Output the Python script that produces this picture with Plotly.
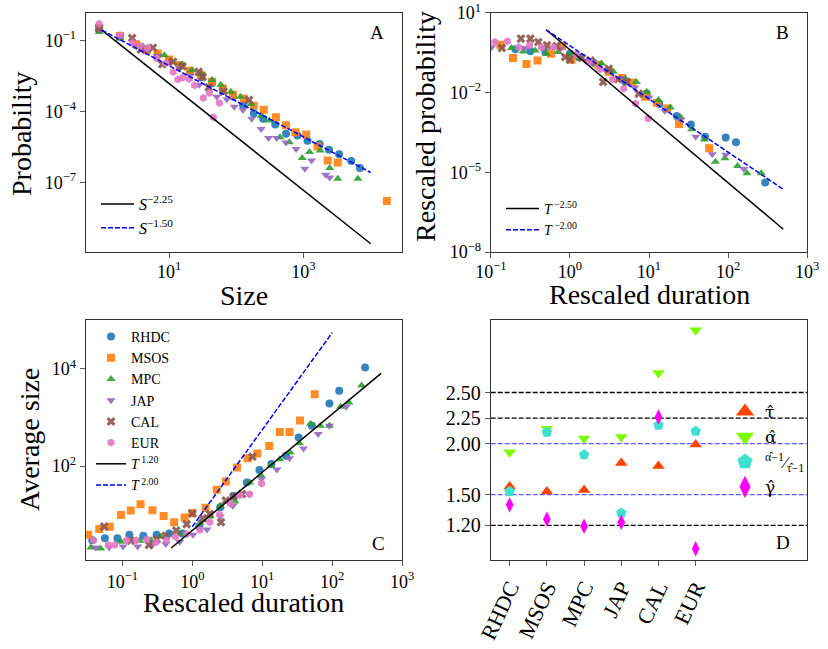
import numpy as np
import plotly.graph_objects as go

FONT = "Liberation Serif"
W, H = 828, 649

DATASETS = ["RHDC", "MSOS", "MPC", "JAP", "CAL", "EUR"]
COLORS = ["#1f77b4", "#ff7f0e", "#2ca02c", "#9467bd", "#8c564b", "#e377c2"]
SYMBOLS = ["circle", "square", "triangle-up", "triangle-down", "x", "hexagon"]

# all scatter values below are log10 values

# panel A: size distribution, log10(size) / log10(probability)
A_RHDC_X = [-0.04, 0.27, 0.51, 0.67, 0.83, 1.0, 1.16, 1.31, 1.48, 1.64, 1.8, 1.95, 2.1, 2.26,
            2.4, 2.58, 2.74, 2.91, 3.06, 3.24, 3.38, 3.53, 3.71, 3.84]
A_RHDC_Y = [-0.54, -0.85, -1.2, -1.41, -1.62, -1.86, -2.08, -2.32, -2.56, -2.81, -3.06, -3.37,
            -3.72, -4.07, -4.3, -4.55, -4.94, -5.01, -5.23, -5.37, -5.61, -5.8, -6.08, -6.38]
A_MSOS_X = [-0.04, 0.27, 0.51, 0.67, 0.83, 1.0, 1.16, 1.31, 1.48, 1.64, 1.8, 1.95, 2.11, 2.26,
            2.41, 2.59, 2.74, 2.88, 3.04, 3.21, 3.36, 3.51, 4.24]
A_MSOS_Y = [-0.48, -0.82, -1.17, -1.41, -1.56, -1.81, -2.05, -2.28, -2.47, -2.75, -3.03, -3.29,
            -3.45, -3.76, -3.93, -4.24, -4.58, -4.87, -4.97, -5.47, -6.06, -6.15, -7.77]
A_MPC_X = [-0.04, 0.27, 0.61, 0.93, 1.19, 1.34, 1.49, 1.64, 1.77, 1.92, 2.06, 2.22, 2.37,
           2.49, 2.65, 2.79, 2.98, 3.09, 3.25, 3.39, 3.51, 3.81]
A_MPC_Y = [-0.65, -0.92, -1.25, -1.63, -2.01, -2.26, -2.42, -2.67, -2.87, -3.17, -3.38, -3.68,
           -4.18, -4.38, -5.08, -5.29, -5.96, -5.71, -5.64, -6.38, -6.83, -6.83]
A_JAP_X = [-0.04, 0.27, 0.51, 0.67, 0.83, 1.0, 1.16, 1.31, 1.45, 1.71, 1.86, 1.97, 2.1, 2.23,
           2.37, 2.48, 2.6, 2.74, 2.89, 3.02, 3.12, 3.33, 3.39]
A_JAP_Y = [-0.54, -0.82, -1.24, -1.45, -1.66, -1.91, -2.18, -2.5, -2.87, -3.38, -3.48, -3.8,
           -3.94, -4.3, -4.74, -5.12, -5.12, -5.3, -5.58, -6.41, -6.06, -6.66, -6.78]
A_CAL_X = [-0.04, 0.45, 0.58, 0.76, 0.9, 1.06, 1.2, 1.44, 1.5, 1.59, 1.81, 2.19]
A_CAL_Y = [-0.48, -0.9, -1.39, -1.31, -2.01, -1.9, -2.09, -2.33, -2.54, -2.98, -3.16, -3.51]
A_EUR_X = [-0.04, 0.27, 0.46, 0.57, 0.68, 0.82, 0.95, 1.06, 1.13, 1.2, 1.3, 1.38, 1.51, 1.6,
           1.66, 1.75]
A_EUR_Y = [-0.3, -0.79, -1.11, -1.24, -1.31, -1.77, -1.97, -2.33, -2.65, -2.58, -2.63, -2.89,
           -3.43, -3.22, -4.24, -3.64]

# panel B: duration distribution, log10(rescaled duration) / log10(rescaled probability)
B_RHDC_X = [-0.69, -0.5, -0.31, 0.0, 0.11, 0.3, 0.5, 0.7, 0.97, 1.13, 1.35, 1.53, 1.71, 1.97,
            2.1, 2.47]
B_RHDC_Y = [-0.37, -0.44, -0.47, -0.54, -0.66, -0.88, -1.2, -1.58, -2.03, -2.43, -2.88, -3.2,
            -3.66, -3.69, -3.87, -5.38]
B_MSOS_X = [-0.88, -0.72, -0.55, -0.41, -0.24, -0.1, 0.02, 0.36, 0.49, 0.66, 0.79, 0.95, 1.1,
            1.23, 1.38, 1.76]
B_MSOS_Y = [-0.2, -0.7, -0.92, -0.79, -0.54, -0.26, -0.76, -0.95, -1.22, -1.45, -1.62, -2.16,
            -2.38, -2.6, -3.18, -4.09]
B_MPC_X = [-0.74, -0.59, -0.44, -0.3, -0.15, 0.0, 0.13, 0.4, 0.55, 0.7, 0.84, 0.97, 1.12,
           1.27, 1.4, 1.54, 1.7, 1.84, 1.96, 2.12, 2.24, 2.42]
B_MPC_Y = [-0.32, -0.45, -0.42, -0.54, -0.47, -0.57, -0.72, -0.91, -1.22, -1.47, -1.6, -1.97,
           -2.28, -2.56, -2.93, -3.38, -3.76, -4.6, -4.47, -4.76, -5.03, -5.03]
B_JAP_X = [-0.99, -0.57, -0.34, -0.12, 0.2, 0.45, 0.65, 0.82, 1.0, 1.2, 1.4, 1.59, 1.8, 1.97,
           2.2]
B_JAP_Y = [-0.29, -0.32, -0.32, -0.35, -0.8, -1.15, -1.45, -1.81, -2.18, -2.68, -3.01, -3.66,
           -4.32, -4.34, -4.87]
B_CAL_X = [-0.86, -0.62, -0.5, -0.4, -0.29, -0.17, -0.06, 0.0, 0.15, 0.26, 0.42, 0.49, 0.61,
           0.72, 0.87]
B_CAL_Y = [-0.32, 0.03, 0.03, -0.1, -0.22, -0.25, -0.66, -0.76, -0.7, -0.79, -1.6, -1.1, -1.5,
           -1.6, -2.04]
B_EUR_X = [-0.95, -0.79, -0.65, -0.51, -0.36, -0.21, 0.08, 0.25, 0.38, 0.54, 0.68, 0.83, 0.99]
B_EUR_Y = [-0.1, -0.07, -0.29, -0.22, -0.3, -0.29, -0.57, -0.85, -1.12, -1.5, -1.85, -2.41,
           -2.97]

# panel C: average size vs duration, log10(rescaled duration) / log10(average size)
C_RHDC_X = [-1.43, -1.25, -1.07, -0.9, -0.7, -0.51, -0.33, -0.14, 0.1, 0.4, 0.59, 0.78, 0.96,
            1.13, 1.34, 1.52, 1.71, 1.96, 2.1, 2.47]
C_RHDC_Y = [0.47, 0.51, 0.51, 0.58, 0.56, 0.58, 0.61, 0.61, 0.75, 1.15, 1.38, 1.66, 1.92, 2.04,
            2.21, 2.59, 2.83, 3.29, 3.55, 4.03]
C_MSOS_X = [-1.49, -1.33, -1.18, -1.02, -0.88, -0.74, -0.57, -0.41, -0.26, -0.11, 0.0, 0.19,
            0.35, 0.48, 0.64, 0.79, 0.93, 1.1, 1.25, 1.39, 1.54, 1.75]
C_MSOS_Y = [0.58, 0.7, 0.75, 0.99, 1.08, 1.21, 1.09, 0.97, 0.84, 0.94, 1.03, 1.14, 1.51, 1.68,
            1.97, 2.16, 2.26, 2.41, 2.7, 2.7, 2.94, 3.48]
C_MPC_X = [-1.45, -1.31, -1.02, -0.75, -0.59, -0.45, -0.18, 0.11, 0.25, 0.4, 0.61, 0.82, 0.98,
           1.12, 1.25, 1.4, 1.53, 1.69, 1.83, 1.96, 2.12, 2.24, 2.42]
C_MPC_Y = [0.32, 0.3, 0.44, 0.46, 0.47, 0.54, 0.6, 0.83, 0.96, 1.18, 1.27, 1.66, 1.81, 2.0,
           2.14, 2.28, 2.47, 2.87, 2.83, 2.83, 3.22, 3.31, 3.66]
C_JAP_X = [-1.38, -1.19, -0.99, -0.78, -0.58, -0.38, -0.18, 0.01, 0.21, 0.4, 0.58, 0.81, 0.99,
           1.21, 1.39, 1.59, 1.8, 1.96, 2.2]
C_JAP_Y = [0.32, 0.32, 0.34, 0.34, 0.36, 0.39, 0.44, 0.58, 0.69, 0.96, 1.18, 1.42, 1.73, 1.93,
           2.16, 2.36, 2.66, 2.83, 3.22]
C_CAL_X = [-1.26, -0.88, -0.62, -0.51, -0.38, -0.23, -0.08, 0.0, 0.15, 0.25, 0.41, 0.48, 0.59,
           0.71, 0.86]
C_CAL_Y = [0.75, 0.46, 0.37, 0.49, 0.56, 0.67, 0.8, 1.02, 0.92, 1.01, 0.84, 1.29, 1.37, 1.42,
           2.19]
C_EUR_X = [-1.41, -1.2, -1.11, -0.94, -0.8, -0.65, -0.52, -0.37, -0.24, -0.08, 0.11, 0.25,
           0.39, 0.55, 0.68, 0.82, 0.99]
C_EUR_Y = [0.47, 0.37, 0.37, 0.47, 0.47, 0.49, 0.43, 0.47, 0.54, 0.6, 0.68, 0.84, 1.0, 1.22,
           1.4, 1.42, 1.64]

# power-law guide lines: (label, x0, y0, exponent, x_end), drawn y = y0 * (x / x0) ** exponent
A_FITS = [("<i>S</i><sup>−2.25</sup>", 1.0, 0.27, -2.25, 1e4),
          ("<i>S</i><sup>−1.50</sup>", 1.0, 0.27, -1.50, 1e4)]
B_FITS = [("<i>T</i><sup> −2.50</sup>", 0.5, 2.31, -2.50, 500.0),
          ("<i>T</i><sup> −2.00</sup>", 0.5, 2.31, -2.00, 500.0)]
C_FITS = [("<i>T</i><sup> 1.20</sup>", 0.5, 2.04, 1.20, 500.0),
          ("<i>T</i><sup> 2.00</sup>", 1.0, 5.6, 2.00, 100.0)]

# panel D: estimated exponents per dataset
D_TAU = [1.58, 1.53, 1.545, 1.81, 1.78, 1.99]
D_ALPHA = [1.915, 2.146, 2.05, 2.065, 2.69, 3.11]
D_RATIO = [1.53, 2.11, 1.89, 1.32, 2.18, 2.12]
D_GAMMA = [1.40, 1.26, 1.19, 1.23, 2.26, 0.97]
D_LEVELS = [2.50, 2.25, 2.00, 1.50, 1.20]
D_LEVEL_COLORS = ["black", "black", "#5a5aff", "#5a5aff", "black"]
D_TICKS = ["1.20", "1.50", "2.00", "2.25", "2.50"]

panel_data = {
    "A": [(A_RHDC_X, A_RHDC_Y), (A_MSOS_X, A_MSOS_Y), (A_MPC_X, A_MPC_Y),
          (A_JAP_X, A_JAP_Y), (A_CAL_X, A_CAL_Y), (A_EUR_X, A_EUR_Y)],
    "B": [(B_RHDC_X, B_RHDC_Y), (B_MSOS_X, B_MSOS_Y), (B_MPC_X, B_MPC_Y),
          (B_JAP_X, B_JAP_Y), (B_CAL_X, B_CAL_Y), (B_EUR_X, B_EUR_Y)],
    "C": [(C_RHDC_X, C_RHDC_Y), (C_MSOS_X, C_MSOS_Y), (C_MPC_X, C_MPC_Y),
          (C_JAP_X, C_JAP_Y), (C_CAL_X, C_CAL_Y), (C_EUR_X, C_EUR_Y)],
}
axes_of = {"A": ("x", "y", "legend"), "B": ("x2", "y2", "legend2"), "C": ("x3", "y3", "legend3")}
fits_of = {"A": A_FITS, "B": B_FITS, "C": C_FITS}


def px(x):
    return x / W


def py(y):
    return 1 - y / H


fig = go.Figure()

for panel in ["A", "B", "C"]:
    xa, ya, lg = axes_of[panel]
    for name, color, sym, (lx, ly) in zip(DATASETS, COLORS, SYMBOLS, panel_data[panel]):
        fig.add_trace(go.Scatter(
            x=np.power(10.0, lx), y=np.power(10.0, ly), mode="markers", name=name,
            xaxis=xa, yaxis=ya, legend=lg, showlegend=(panel == "C"),
            marker=dict(color=color, symbol=sym, size=8, line=dict(width=0), opacity=0.9),
        ))
    for i, (label, x0, y0, ex, x1) in enumerate(fits_of[panel]):
        xs = np.array([x0, x1])
        fig.add_trace(go.Scatter(
            x=xs, y=y0 * (xs / x0) ** ex, mode="lines", name=label,
            xaxis=xa, yaxis=ya, legend=lg,
            line=dict(color="black" if i == 0 else "blue", width=1.5,
                      dash="solid" if i == 0 else "5px,2px"),
        ))

# panel D points
cats = np.arange(len(DATASETS))
HAT = '<span style="font-family:DejaVu Serif">%s</span>'
d_series = [
    (HAT % "τ̂", D_TAU, "triangle-up", "#ff4500"),
    (HAT % "α̂", D_ALPHA, "triangle-down", "#7cfc00"),
    ("<sup>α̂−1</sup>⁄<sub>τ̂−1</sub>", D_RATIO, "pentagon", "#40e0d0"),
    (HAT % "γ̂", D_GAMMA, "diamond-tall", "#ff00ff"),
]
for label, vals, sym, color in d_series:
    fig.add_trace(go.Scatter(
        x=cats, y=vals, mode="markers", xaxis="x4", yaxis="y4", showlegend=False,
        marker=dict(color=color, symbol=sym, size=11, line=dict(width=0)),
    ))
for label, vals, sym, color in d_series:
    fig.add_trace(go.Scatter(
        x=[None], y=[None], mode="markers", name=label, xaxis="x4", yaxis="y4",
        legend="legend4",
        marker=dict(color=color, symbol=sym, size=17, line=dict(width=0)),
    ))

for lvl, col in zip(D_LEVELS, D_LEVEL_COLORS):
    fig.add_shape(type="line", xref="x4 domain", yref="y4", x0=0, x1=1, y0=lvl, y1=lvl,
                  line=dict(color=col, width=1.3, dash="5px,2px"), layer="below")


def sup_labels(exps):
    return ["10<sup>%s</sup>" % (str(e).replace("-", "−")) for e in exps]


common = dict(showline=True, linecolor="#333", linewidth=1, mirror=True, ticks="outside",
              ticklen=5, tickcolor="#555", showgrid=False, zeroline=False,
              ticklabeloverflow="allow",
              tickfont=dict(family=FONT, size=18, color="black"))

# frame edges in window pixels
XA = [px(85.7), px(402.3)]
XB = [px(490.7), px(807.3)]
YT = [py(252.3), py(12.7)]
YB = [py(560.0), py(320.0)]

fig.update_layout(
    width=W, height=H, margin=dict(l=0, r=0, t=0, b=0, autoexpand=False),
    paper_bgcolor="white", plot_bgcolor="white",
    font=dict(family=FONT, color="black"),
    xaxis=dict(domain=XA, anchor="y", type="log", range=[-0.24, 4.47], ticklabelstandoff=-2,
               tickvals=[1e1, 1e3], ticktext=sup_labels([1, 3]), **common),
    yaxis=dict(domain=YT, anchor="x", type="log", range=[-9.93, 0.163],
               tickvals=[1e-1, 1e-4, 1e-7], ticktext=sup_labels([-1, -4, -7]), **common),
    xaxis2=dict(domain=XB, anchor="y2", type="log", range=[-1.002, 3.002], ticklabelstandoff=-2,
                tickvals=[1e-1, 1, 1e1, 1e2, 1e3], ticktext=sup_labels([-1, 0, 1, 2, 3]), **common),
    yaxis2=dict(domain=YT, anchor="x2", type="log", range=[-8.005, 1.005],
                tickvals=[1e1, 1e-2, 1e-5, 1e-8], ticktext=sup_labels([1, -2, -5, -8]), **common),
    xaxis3=dict(domain=XA, anchor="y3", type="log", range=[-1.524, 3.002],
                tickvals=[1e-1, 1, 1e1, 1e2, 1e3], ticktext=sup_labels([-1, 0, 1, 2, 3]), **common),
    yaxis3=dict(domain=YB, anchor="x3", type="log", range=[0.062, 5.01],
                tickvals=[1e2, 1e4], ticktext=sup_labels([2, 4]), **common),
    xaxis4=dict(domain=XB, anchor="y4", range=[-0.51, 8.0], tickvals=list(cats),
                ticktext=DATASETS, tickangle=-65,
                **{**common, "tickfont": dict(family=FONT, size=22, color="black")}),
    yaxis4=dict(domain=YB, anchor="x4", range=[0.86, 3.21],
                tickvals=[float(t) for t in D_TICKS], ticktext=D_TICKS,
                **{**common, "tickfont": dict(family=FONT, size=20, color="black")}),
    legend=dict(x=px(96), y=py(187), xanchor="left", yanchor="top", bgcolor="rgba(0,0,0,0)",
                font=dict(family=FONT, size=16), itemwidth=33),
    legend2=dict(x=px(501), y=py(193), xanchor="left", yanchor="top", bgcolor="rgba(0,0,0,0)",
                 font=dict(family=FONT, size=14), itemwidth=33),
    legend3=dict(x=px(91), y=py(321), xanchor="left", yanchor="top", bgcolor="rgba(0,0,0,0)",
                 font=dict(family=FONT, size=14), itemwidth=30),
    legend4=dict(x=px(725), y=py(394), xanchor="left", yanchor="top", bgcolor="rgba(0,0,0,0)",
                 font=dict(family=FONT, size=17), itemwidth=30),
)

title_font = dict(family=FONT, size=28, color="black")
label_font = dict(family=FONT, size=19, color="black")
annots = [
    ("Probability", 22, 134, -90, title_font),
    ("Size", 244, 295, 0, title_font),
    ("Rescaled probability", 425, 126, -90, title_font),
    ("Rescaled duration", 649, 294, 0, title_font),
    ("Average size", 29, 440, -90, title_font),
    ("Rescaled duration", 244, 602, 0, title_font),
    ("A", 377, 32, 0, label_font),
    ("B", 782, 33, 0, label_font),
    ("C", 378, 543, 0, label_font),
    ("D", 783, 542, 0, label_font),
]
for text, x, y, ang, f in annots:
    fig.add_annotation(text=text, x=px(x), y=py(y), xref="paper", yref="paper",
                       showarrow=False, textangle=ang, font=f,
                       xanchor="center", yanchor="middle")

# drop the browser's default 8px body margin so the figure fills the window exactly
fig.write_html("out.html", config={"displayModeBar": False},
               post_script="document.body.style.margin = '0px';")
